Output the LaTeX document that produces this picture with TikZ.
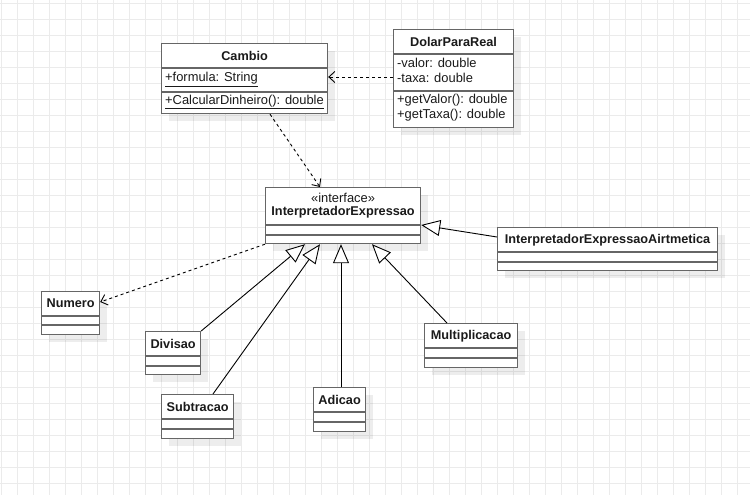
\documentclass[tikz,border=0pt]{standalone}
\usepackage{fontspec}
\setmainfont{Liberation Sans}
\usetikzlibrary{calc,arrows.meta,shadows}

\definecolor{gridcol}{HTML}{EBEBEB}
\definecolor{boxline}{HTML}{666666}
\definecolor{inktext}{HTML}{1A1A1A}

\newcommand{\umlsep}[2]{\draw[sepline] ($(#1.north west)+(0,#2)$) -- ($(#1.north east)+(0,#2)$);}

\begin{document}
\begin{tikzpicture}[x=1pt,y=-1pt,
  gridline/.style={draw=gridcol,line width=0.8pt},
  classbox/.style={draw=boxline,fill=white,line width=1.2pt,anchor=north west,inner sep=0pt,
    drop shadow={shadow xshift=7pt,shadow yshift=-7pt,fill=black,opacity=0.07}},
  sepline/.style={draw=boxline,line width=1.2pt},
  title/.style={inner sep=0pt,text=inktext,font=\fontsize{12.7}{14}\selectfont\bfseries},
  stereo/.style={inner sep=0pt,text=inktext,font=\fontsize{12.9}{14}\selectfont},
  member/.style={inner sep=0pt,anchor=west,text=inktext,font=\fontsize{12.9}{14}\selectfont},
  depend/.style={draw=black,line width=0.9pt,dash pattern=on 3pt off 3pt,
    -{Straight Barb[length=6pt,width=11pt]}},
  realize/.style={draw=black,line width=0.9pt,
    -{Triangle[open,length=19pt,width=16pt,fill=white]}}]

\useasboundingbox (0,0) rectangle (750,495);
\fill[white] (0,0) rectangle (750,495);

% background grid
\foreach \gx in {1,17,...,750} \draw[gridline] (\gx,0) -- (\gx,495);
\foreach \gy in {3,19,...,495} \draw[gridline] (0,\gy) -- (750,\gy);

% class boxes
\node[classbox,minimum width=166pt,minimum height=70pt] (cambio) at (161,43) {};
\node[classbox,minimum width=120pt,minimum height=98pt] (dolar) at (393,29) {};
\node[classbox,minimum width=155pt,minimum height=56pt] (iface) at (265,187) {};
\node[classbox,minimum width=220pt,minimum height=43pt] (airt) at (497,227) {};
\node[classbox,minimum width=58pt,minimum height=43pt] (numero) at (41,291) {};
\node[classbox,minimum width=55pt,minimum height=43pt] (divisao) at (145,331) {};
\node[classbox,minimum width=72pt,minimum height=44pt] (subtracao) at (161,394) {};
\node[classbox,minimum width=52pt,minimum height=44pt] (adicao) at (313,387) {};
\node[classbox,minimum width=93pt,minimum height=44pt] (multi) at (424,323) {};

% compartment separators
\umlsep{cambio}{25}\umlsep{cambio}{49}
\umlsep{dolar}{25}\umlsep{dolar}{62}
\umlsep{iface}{38}\umlsep{iface}{48}
\umlsep{airt}{25}\umlsep{airt}{35}
\umlsep{numero}{25}\umlsep{numero}{34}
\umlsep{divisao}{25}\umlsep{divisao}{35}
\umlsep{subtracao}{25}\umlsep{subtracao}{35}
\umlsep{adicao}{25}\umlsep{adicao}{35}
\umlsep{multi}{25}\umlsep{multi}{35}

% Cambio
\node[title] (cambio-t) at ($(cambio.north)+(0,12.5)$) {Cambio};
\node[member] (cambio-a) at ($(cambio.north west)+(4,36.5)$) {\underline{+formula: String}};
\node[member] (cambio-m) at ($(cambio.north west)+(4,59)$) {\underline{+CalcularDinheiro(): double}};

% DolarParaReal
\node[title] (dolar-t) at ($(dolar.north)+(0,12.5)$) {DolarParaReal};
\node[member] (dolar-a1) at ($(dolar.north west)+(4,33.5)$) {-valor: double};
\node[member] (dolar-a2) at ($(dolar.north west)+(4,48.5)$) {-taxa: double};
\node[member] (dolar-m1) at ($(dolar.north west)+(4,71.5)$) {+getValor(): double};
\node[member] (dolar-m2) at ($(dolar.north west)+(4,86.5)$) {+getTaxa(): double};

% InterpretadorExpressao
\node[stereo] (iface-s) at ($(iface.north)+(0,11)$) {«interface»};
\node[title] (iface-t) at ($(iface.north)+(0,25.5)$) {InterpretadorExpressao};

% remaining class titles
\node[title] (airt-t) at ($(airt.north)+(0,13)$) {InterpretadorExpressaoAirtmetica};
\node[title] (numero-t) at ($(numero.north)+(0,12.5)$) {Numero};
\node[title] (divisao-t) at ($(divisao.north)+(0,12.5)$) {Divisao};
\node[title] (subtracao-t) at ($(subtracao.north)+(0,13)$) {Subtracao};
\node[title] (adicao-t) at ($(adicao.north)+(0,12.5)$) {Adicao};
\node[title] (multi-t) at ($(multi.north)+(0,13)$) {Multiplicacao};

% dependencies
\draw[depend] ($(dolar.north west)+(0,48)$) -- ($(cambio.north east)+(0,34)$);
\draw[depend] ($(cambio.south west)+(109,0)$) -- ($(iface.north west)+(55,0)$);
\draw[depend] (iface.south west) -- ($(numero.north east)+(0,11)$);

% realizations of the interface
\draw[realize] (divisao.north east) -- ($(iface.south west)+(40,0)$);
\draw[realize] ($(subtracao.north west)+(52,0)$) -- ($(iface.south west)+(55,0)$);
\draw[realize] ($(adicao.north west)+(28,0)$) -- ($(iface.south west)+(76,0)$);
\draw[realize] ($(multi.north west)+(23,0)$) -- ($(iface.south west)+(107,0)$);
\draw[realize] ($(airt.north west)+(0,10)$) -- ($(iface.north east)+(0,38)$);

\end{tikzpicture}
\end{document}
